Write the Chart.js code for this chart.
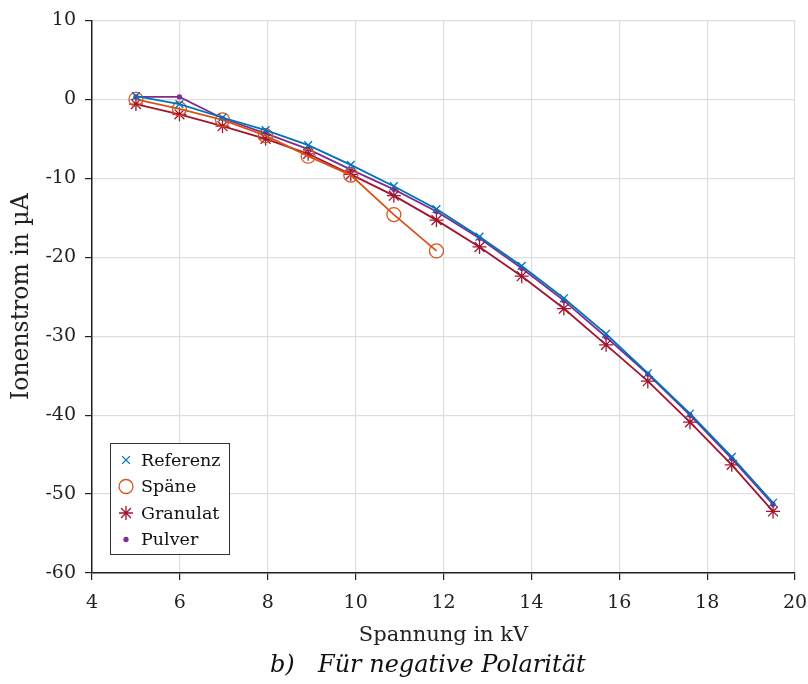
<!DOCTYPE html>
<html>
<head>
<meta charset="utf-8">
<script src="https://cdn.jsdelivr.net/npm/chart.js@4.4.1/dist/chart.umd.min.js"></script>
<style>
  html, body { margin: 0; padding: 0; background: #fff; }
  #wrap { width: 808px; height: 684px; }
</style>
</head>
<body>
<div id="wrap"><canvas id="chart" width="808" height="684"></canvas></div>
<script>
// Data
const spannung = [5.0, 5.99, 6.97, 7.95, 8.92, 9.89, 10.87, 11.84, 12.82, 13.78, 14.74, 15.70, 16.65, 17.61, 18.56, 19.50];
const referenz = [0.4, -0.6, -2.3, -3.9, -5.8, -8.3, -11.0, -13.9, -17.4, -21.1, -25.2, -29.7, -34.7, -39.8, -45.3, -51.1];
const spaene = [0.0, -1.2, -2.6, -4.6, -7.2, -9.6, -14.6, -19.2];
const granulat = [-0.6, -1.9, -3.4, -5.0, -6.9, -9.5, -12.2, -15.3, -18.7, -22.4, -26.5, -31.1, -35.7, -40.9, -46.3, -52.2];
const pulver = [0.3, 0.3, -2.4, -4.3, -6.3, -8.9, -11.4, -14.2, -17.6, -21.4, -25.5, -30.1, -34.8, -40.0, -45.5, -51.3];
const xTicks = [4, 6, 8, 10, 12, 14, 16, 18, 20];
const yTicks = [10, 0, -10, -20, -30, -40, -50, -60];

const FONT = '"DejaVu Serif", serif';

function pts(ys) {
    return ys.map((y, i) => ({ x: spannung[i], y: y }));
}

const series = [
    { label: 'Referenz', data: referenz, color: '#0072BD', style: 'crossRot', radius: 5.5, fill: false },
    { label: 'Späne', data: spaene, color: '#D95319', style: 'circle', radius: 7, fill: false },
    { label: 'Granulat', data: granulat, color: '#A2142F', style: 'star', radius: 7, fill: false },
    { label: 'Pulver', data: pulver, color: '#7E2F8E', style: 'circle', radius: 2, fill: true }
];

// Legend box in the lower left of the plot
const legendBox = {
    id: 'legendBox',
    afterDraw(chart) {
        const ctx = chart.ctx;
        const a = chart.chartArea;
        const x0 = a.left + 18, y0 = a.bottom - 130, w = 119, h = 111;
        ctx.save();
        ctx.fillStyle = '#fff';
        ctx.fillRect(x0, y0, w, h);
        ctx.strokeStyle = '#333';
        ctx.lineWidth = 1;
        ctx.strokeRect(x0 + 0.5, y0 + 0.5, w, h);
        ctx.font = '17.5px ' + FONT;
        ctx.textBaseline = 'middle';
        series.forEach((s, i) => {
            const cy = y0 + 17 + i * 26.5;
            ctx.strokeStyle = s.color;
            ctx.fillStyle = s.fill ? s.color : 'rgba(0,0,0,0)';
            ctx.lineWidth = 1.3;
            Chart.helpers.drawPoint(ctx, { pointStyle: s.style, radius: s.radius, rotation: 0, borderWidth: 1.3 }, x0 + 16, cy);
            ctx.fillStyle = '#111';
            ctx.fillText(s.label, x0 + 31, cy + 1);
        });
        ctx.restore();
    }
};

// Caption under the axis title
const caption = {
    id: 'caption',
    afterDraw(chart) {
        const ctx = chart.ctx;
        const a = chart.chartArea;
        ctx.save();
        ctx.font = 'italic 24px ' + FONT;
        ctx.fillStyle = '#111';
        ctx.textBaseline = 'middle';
        const x = a.left + 178;
        ctx.fillText('b)', x, 666);
        ctx.fillText('Für negative Polarität', x + 48, 666);
        ctx.restore();
    }
};

new Chart(document.getElementById('chart'), {
    type: 'line',
    data: {
        datasets: series.map(s => ({
            label: s.label,
            data: pts(s.data),
            borderColor: s.color,
            backgroundColor: s.fill ? s.color : 'rgba(0,0,0,0)',
            pointStyle: s.style,
            pointRadius: s.radius,
            pointHoverRadius: s.radius,
            pointBorderWidth: 1.3,
            pointBorderColor: s.color,
            pointBackgroundColor: s.fill ? s.color : 'rgba(0,0,0,0)',
            borderWidth: 1.8,
            tension: 0,
            fill: false
        }))
    },
    options: {
        responsive: false,
        animation: false,
        layout: { padding: { left: 8, right: 0, top: 8, bottom: 36 } },
        plugins: {
            legend: { display: false },
            tooltip: { enabled: false },
            title: { display: false }
        },
        scales: {
            x: {
                type: 'linear',
                min: 4,
                max: 20,
                afterBuildTicks: axis => { axis.ticks = xTicks.map(v => ({ value: v })); },
                afterFit: axis => { axis.paddingRight = 13; },
                ticks: { color: '#222', font: { family: FONT, size: 19 }, padding: 12, maxRotation: 0 },
                grid: { color: '#dedede', lineWidth: 1.2, tickColor: '#222', tickLength: 7 },
                border: { color: '#222', width: 1.5 },
                title: {
                    display: true,
                    text: 'Spannung in kV',
                    color: '#222',
                    font: { family: FONT, size: 21 },
                    padding: { top: -4, bottom: 0 }
                }
            },
            y: {
                type: 'linear',
                min: -60,
                max: 10,
                afterBuildTicks: axis => { axis.ticks = yTicks.map(v => ({ value: v })); },
                afterFit: axis => { axis.width = 84; },
                ticks: { color: '#222', font: { family: FONT, size: 19 }, padding: 9 },
                grid: { color: '#dedede', lineWidth: 1.2, tickColor: '#222', tickLength: 7 },
                border: { color: '#222', width: 1.5 },
                title: {
                    display: true,
                    text: 'Ionenstrom in µA',
                    color: '#222',
                    font: { family: FONT, size: 23.5 },
                    padding: { top: 0, bottom: 4 }
                }
            }
        }
    },
    plugins: [legendBox, caption]
});
</script>
</body>
</html>
